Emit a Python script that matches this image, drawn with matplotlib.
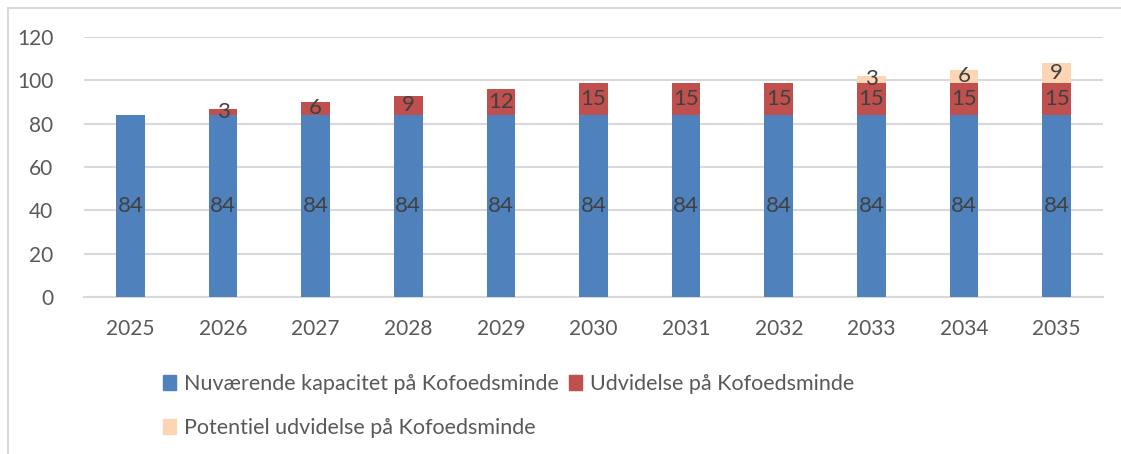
import numpy as np
import matplotlib.pyplot as plt
from matplotlib.lines import Line2D
from matplotlib.patches import Patch

years = ["2025", "2026", "2027", "2028", "2029", "2030", "2031", "2032", "2033", "2034", "2035"]
current = [84, 84, 84, 84, 84, 84, 84, 84, 84, 84, 84]
expansion = [0, 3, 6, 9, 12, 15, 15, 15, 15, 15, 15]
potential = [0, 0, 0, 0, 0, 0, 0, 0, 3, 6, 9]
series_names = ["Nuværende kapacitet på Kofoedsminde",
                "Udvidelse på Kofoedsminde",
                "Potentiel udvidelse på Kofoedsminde"]

plt.rcParams['font.family'] = ['Lato', 'DejaVu Sans']
txt = '#595959'
lbl = '#404040'
colors = ['#4F81BD', '#C0504D', '#FCD5B5']

fig = plt.figure(figsize=(11.21, 4.54), dpi=100)
ax = fig.add_axes([84 / 1121, 157 / 454, 1019 / 1121, 260 / 454])

x = np.arange(len(years))
w = 0.31
cur = np.array(current)
exp = np.array(expansion)
pot = np.array(potential)

ax.bar(x, cur, w, color=colors[0], zorder=3)
ax.bar(x, exp, w, bottom=cur, color=colors[1], zorder=3)
ax.bar(x, pot, w, bottom=cur + exp, color=colors[2], zorder=3)

fs = 16
for i in range(len(years)):
    ax.text(x[i], cur[i] / 2, str(cur[i]), ha='center', va='center', fontsize=fs, color=lbl, zorder=4)
    if exp[i] > 0:
        ax.text(x[i], cur[i] + exp[i] / 2, str(exp[i]), ha='center', va='center', fontsize=fs, color=lbl, zorder=4)
    if pot[i] > 0:
        ax.text(x[i], cur[i] + exp[i] + pot[i] / 2, str(pot[i]), ha='center', va='center', fontsize=fs, color=lbl, zorder=4)

ax.set_xlim(-0.5, len(years) - 0.5)
ax.set_ylim(0, 120)
ax.set_yticks(range(0, 121, 20))
ax.set_xticks(x)
ax.set_xticklabels(years)
ax.tick_params(axis='both', length=0, labelsize=15, labelcolor=txt)
ax.tick_params(axis='y', pad=22)
ax.tick_params(axis='x', pad=16)
ax.grid(axis='y', color='#D9D9D9', lw=1.5, zorder=0)
for s in ['top', 'right', 'left']:
    ax.spines[s].set_visible(False)
ax.spines['bottom'].set_color('#D9D9D9')
ax.spines['bottom'].set_linewidth(1.5)

handles = [Patch(color=c) for c in colors]
order = [0, 2, 1]
fig.legend([handles[i] for i in order], [series_names[i] for i in order],
           loc='upper left', bbox_to_anchor=(144 / 1121, 1 - 355 / 454), ncol=2,
           frameon=False, fontsize=15.5, labelcolor=txt,
           handlelength=0.6, handleheight=0.7, handletextpad=0.35,
           columnspacing=0.5, labelspacing=1.1)

fig.add_artist(Line2D([8 / 1121, 1], [1 - 8 / 454, 1 - 8 / 454], transform=fig.transFigure, color='#D9D9D9', lw=1.5))
fig.add_artist(Line2D([8 / 1121, 8 / 1121], [0, 1 - 8 / 454], transform=fig.transFigure, color='#D9D9D9', lw=1.5))

fig.savefig('out.png', dpi=100)
